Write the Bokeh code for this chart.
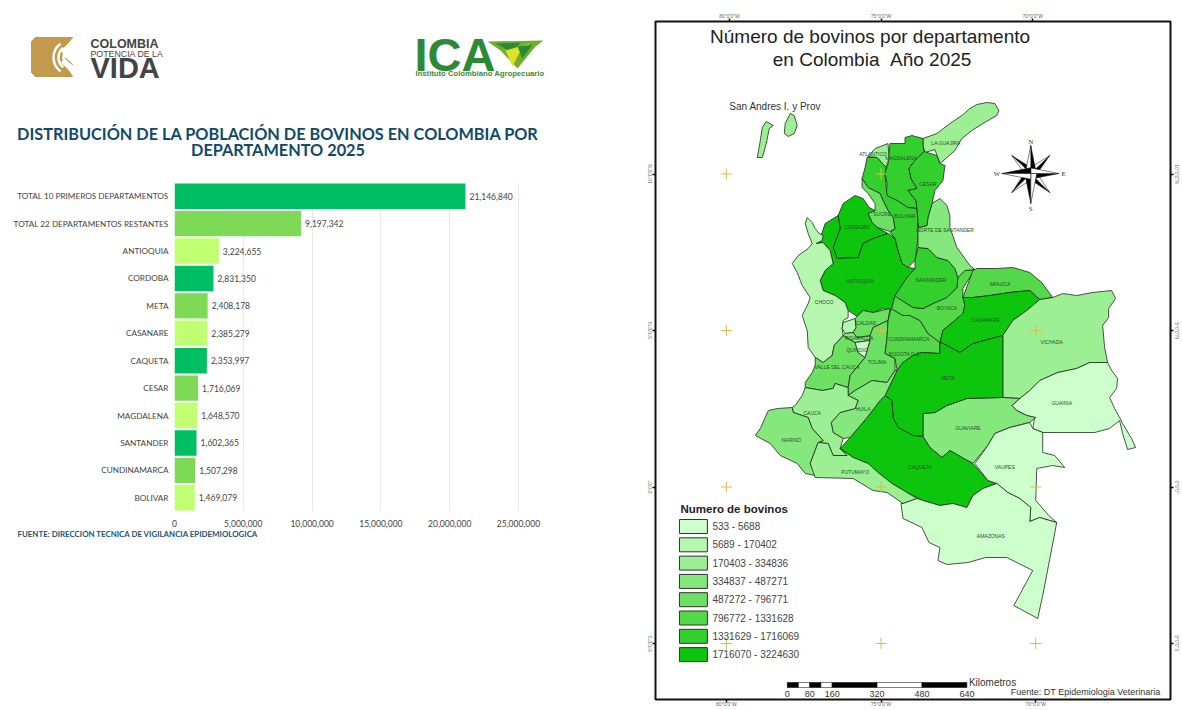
from bokeh.plotting import figure
from bokeh.layouts import row, column
from bokeh.models import (ColumnDataSource, FactorRange, Range1d, FixedTicker, NumeralTickFormatter,
                          LinearAxis)
from bokeh.core.properties import value
from bokeh.embed import file_html
from bokeh.resources import INLINE

# ------------------------------------------------------------------ bar chart data
categories = ["TOTAL 10 PRIMEROS DEPARTAMENTOS", "TOTAL 22 DEPARTAMENTOS RESTANTES", "ANTIOQUIA", "CORDOBA",
              "META", "CASANARE", "CAQUETA", "CESAR", "MAGDALENA", "SANTANDER", "CUNDINAMARCA", "BOLIVAR"]
bovinos = [21146840, 9197342, 3224655, 2831350, 2408178, 2385279, 2353997, 1716069, 1648570, 1602365, 1507298, 1469079]
bar_palette = ["#00bf63", "#7ed957", "#c1ff72"]
x_ticks = [0, 5000000, 10000000, 15000000, 20000000, 25000000]

# ------------------------------------------------------------------ map legend
legend_labels = ["533 - 5688", "5689 - 170402", "170403 - 334836", "334837 - 487271", "487272 - 796771",
                 "796772 - 1331628", "1331629 - 1716069", "1716070 - 3224630"]
C = ["#ccffcc", "#b5f7ae", "#9cf093", "#85e87c", "#6ce062", "#52d848", "#33cf2d", "#0cc50c"]

# ------------------------------------------------------------------ map: outlines
GUAJIRA = [(923,138),(937,133),(950,123),(962,115),(970,108),(977,104),(987,102),(995,103),(999,110),(997,115),(983,123),(972,130),(962,138),(955,150),(947,157),(940,163),(937,155),(935,149),(925,152),(923,145)]
MAGDALENA = [(905,137),(912,135),(923,138),(923,145),(924,151),(915,160),(909,168),(911,178),(917,188),(908,190),(916,200),(917,208),(908,207),(897,200),(886,195),(887,183),(885,172),(888,163),(890,143),(905,143)]
ATLANTICO = [(868,156),(875,148),(888,143),(889,158),(886,167),(877,157)]
BOLIVAR = [(867,157),(877,157),(886,167),(885,175),(887,195),(897,200),(908,207),(917,208),(918,222),(918,233),(917,247),(915,260),(908,267),(902,263),(897,247),(895,238),(890,232),(895,228),(893,217),(888,210),(883,200),(880,193),(868,187),(862,178),(865,167)]
SUCRE = [(862,178),(868,187),(880,193),(883,200),(888,210),(893,217),(895,228),(890,231),(877,227),(872,222),(868,213),(875,210),(875,203),(868,193),(862,187)]
CORDOBA = [(855,195),(863,198),(869,207),(875,210),(868,213),(872,222),(877,227),(888,233),(873,238),(863,243),(858,257),(837,258),(833,247),(840,228),(838,215),(843,203)]
ANTIOQUIA = [(838,215),(825,223),(822,232),(816,243),(823,242),(830,250),(833,263),(825,270),(820,280),(823,290),(835,295),(845,302),(848,310),(857,316),(863,310),(873,312),(883,308),(891,310),(892,307),(895,295),(907,277),(915,268),(908,267),(902,263),(897,247),(895,238),(888,233),(873,238),(863,243),(858,257),(837,258),(833,247),(840,228)]
CHOCO = [(807,217),(812,222),(815,228),(819,233),(823,235),(822,240),(816,243),(823,242),(830,250),(833,263),(825,270),(820,280),(823,290),(835,295),(845,302),(848,310),(848,317),(843,320),(842,328),(843,335),(834,345),(832,355),(823,362),(815,357),(808,347),(807,330),(802,315),(808,303),(810,297),(802,285),(797,272),(792,263),(798,255),(808,248),(812,243),(808,233),(805,223)]
VALLE = [(815,357),(823,362),(832,355),(834,345),(843,335),(855,342),(858,352),(865,357),(850,375),(848,387),(835,383),(833,388),(822,390),(805,387),(805,382),(812,372),(815,365)]
RISARALDA_W = [(843,322),(855,318),(856,327),(853,332),(845,333),(842,328)]
RISARALDA_E = [(845,333),(853,332),(857,337),(870,335),(870,340),(855,342),(843,335)]
QUINDIO = [(855,342),(870,340),(865,357),(858,352)]
CALDAS = [(855,318),(863,310),(873,312),(890,308),(888,320),(873,327),(870,335),(857,337),(853,332),(856,327)]
TOLIMA = [(873,327),(888,320),(887,337),(885,353),(895,358),(895,370),(887,382),(872,380),(855,390),(848,395),(848,387),(850,375),(865,357),(870,340),(870,335)]
CUNDINAMARCA = [(888,320),(891,308),(903,315),(910,315),(920,320),(928,333),(940,342),(940,353),(922,352),(913,355),(903,362),(897,370),(895,358),(885,353),(887,337)]
BOYACA = [(892,307),(895,295),(905,302),(913,307),(923,308),(933,303),(947,297),(957,287),(958,277),(965,270),(975,269),(963,288),(963,297),(965,305),(963,313),(943,330),(940,342),(928,333),(920,320),(910,315),(903,315),(891,308)]
SANTANDER = [(918,247),(928,248),(937,257),(948,260),(955,268),(958,277),(957,287),(947,297),(933,303),(923,308),(913,307),(905,302),(897,297),(895,295),(907,277),(915,268),(915,260)]
NORTE = [(932,203),(940,198),(947,205),(950,215),(950,227),(957,247),(970,265),(975,269),(965,270),(958,277),(955,268),(948,260),(937,257),(928,248),(918,247),(918,233),(918,222),(919,227),(927,225),(928,217)]
CESAR = [(924,151),(937,155),(940,163),(945,165),(943,180),(935,190),(932,203),(928,217),(927,225),(919,227),(918,222),(917,208),(916,200),(908,190),(917,188),(911,178),(909,168),(915,160)]
ARAUCA = [(963,297),(973,270),(977,268),(997,268),(1013,267),(1030,272),(1042,282),(1053,297),(1040,299),(1030,290),(1010,292),(990,295),(973,297)]
CASANARE = [(963,297),(973,297),(990,295),(1010,292),(1030,290),(1040,299),(1027,310),(1013,320),(1003,335),(973,343),(960,352),(943,343),(940,342),(943,330),(963,313),(965,305)]
VICHADA = [(1003,335),(1013,320),(1027,310),(1040,299),(1053,297),(1063,293),(1077,295),(1093,292),(1112,290),(1116,298),(1109,308),(1109,317),(1103,325),(1105,347),(1108,362),(1090,362),(1077,368),(1058,372),(1040,380),(1030,390),(1020,398),(1003,397)]
GUAINIA = [(1012,405),(1020,398),(1030,390),(1040,380),(1058,372),(1077,368),(1090,362),(1108,362),(1112,370),(1118,378),(1117,388),(1110,397),(1115,408),(1120,417),(1123,423),(1132,438),(1136,447),(1128,449),(1123,433),(1120,420),(1110,428),(1095,432),(1043,432),(1033,428),(1035,417),(1027,415),(1017,410)]
GUAVIARE = [(923,413),(935,412),(947,405),(967,398),(1003,397),(1020,398),(1012,405),(1017,410),(1027,415),(1036,417),(1030,422),(1010,427),(995,433),(988,445),(973,463),(962,457),(950,450),(942,457),(930,447),(923,436)]
META = [(940,353),(940,342),(943,343),(960,352),(973,343),(1003,335),(1003,397),(967,398),(947,405),(935,412),(923,413),(923,436),(913,435),(898,427),(893,417),(892,400),(885,395),(897,370),(903,362),(913,355),(922,352)]
CAQUETA = [(885,395),(892,400),(893,417),(898,427),(913,435),(923,436),(930,447),(942,457),(950,450),(962,457),(973,463),(988,480),(997,483),(983,488),(973,495),(967,507),(953,503),(940,505),(923,500),(907,492),(892,483),(878,472),(868,463),(853,457),(840,448),(850,437),(867,417),(880,400)]
HUILA = [(848,395),(855,390),(872,380),(887,382),(895,370),(897,370),(885,395),(880,400),(867,417),(850,437),(843,438),(833,432),(831,422),(840,412),(855,408),(858,400)]
CAUCA = [(805,387),(822,390),(833,388),(835,383),(848,387),(848,395),(858,400),(855,408),(840,412),(831,422),(833,432),(843,438),(840,448),(847,455),(833,455),(828,443),(818,442),(823,440),(812,428),(808,417),(793,412),(792,407),(795,405),(802,395)]
NARINO = [(755,435),(760,428),(768,410),(777,408),(792,407),(793,412),(808,417),(812,428),(823,440),(818,442),(810,463),(815,475),(805,473),(797,463),(780,455),(770,443)]
PUTUMAYO = [(818,442),(828,443),(833,455),(847,455),(840,448),(853,457),(868,463),(878,472),(892,483),(907,492),(917,498),(903,503),(887,492),(873,490),(853,478),(815,477),(810,463)]
VAUPES = [(975,463),(988,445),(995,433),(1010,427),(1030,422),(1033,428),(1043,432),(1043,452),(1055,455),(1065,467),(1053,465),(1037,468),(1036,500),(1049,515),(1057,522),(1050,520),(1040,517),(1030,521),(1031,507),(1020,498),(1008,492),(997,483),(988,480)]
AMAZONAS = [(901,503),(903,518),(922,527),(929,542),(940,547),(938,560),(947,564),(968,562),(986,557),(1007,557),(1033,570),(1014,605),(1038,618),(1044,590),(1057,522),(1050,520),(1040,517),(1030,521),(1031,507),(1020,498),(1008,492),(997,483),(983,488),(973,495),(967,507),(953,503),(940,505),(923,500),(917,498),(903,503)]
SAN_ANDRES = [(757,157),(760,140),(762,127),(766,121),(773,125),(769,128),(766,143),(762,157)]
PROVIDENCIA = [(784,133),(785,123),(790,113),(794,115),(797,125),(794,133),(788,136)]

regions = [(SAN_ANDRES,C[2]),(PROVIDENCIA,C[2]),(GUAJIRA,C[2]),(MAGDALENA,C[6]),(ATLANTICO,C[2]),(BOLIVAR,C[6]),(SUCRE,C[4]),
           (CORDOBA,C[7]),(ANTIOQUIA,C[7]),(CHOCO,C[1]),(VALLE,C[4]),(RISARALDA_W,C[1]),(RISARALDA_E,C[3]),(QUINDIO,C[0]),
           (CALDAS,C[4]),(TOLIMA,C[4]),(CUNDINAMARCA,C[5]),(BOYACA,C[5]),(SANTANDER,C[6]),(NORTE,C[3]),(CESAR,C[6]),
           (ARAUCA,C[5]),(CASANARE,C[7]),(VICHADA,C[2]),(GUAINIA,C[0]),(GUAVIARE,C[3]),(META,C[7]),(CAQUETA,C[7]),
           (HUILA,C[3]),(CAUCA,C[2]),(NARINO,C[3]),(PUTUMAYO,C[2]),(VAUPES,C[0]),(AMAZONAS,C[0])]

dept_names = ["LA GUAJIRA","ATLANTICO","MAGDALENA","CESAR","SUCRE","BOLIVAR","CORDOBA","NORTE DE SANTANDER","ANTIOQUIA","SANTANDER","ARAUCA","CHOCO","BOYACA","CASANARE","VICHADA","CALDAS","RISARALDA","QUINDIO","CUNDINAMARCA","BOGOTA D.C.","VALLE DEL CAUCA","TOLIMA","META","GUAINIA","CAUCA","HUILA","GUAVIARE","NARINO","CAQUETA","VAUPES","PUTUMAYO","AMAZONAS"]
dept_u = [946,873,901,928,882,905,857,945,860,931,1000,824,947,986,1052,866,859,857,909,905,837,877,948,1062,812,863,968,791,920,1005,855,991]
dept_v = [142,153,157,183,213,215,226,229,280,279,283,301,307,319,341,322,337,349,338,353,366,361,377,402,412,408,427,439,466,466,471,535]

cross_lon = [-80,-75,-75,-80,-75,-70,-80,-75,-70,-80,-75,-70]
cross_lat = [10,15,10,5,5,5,0,0,0,-5,-5,-5]

# digitising grid: 31 units per degree of longitude, 31.3 per degree of latitude
def lon(u): return -80 + (u - 726) / 31
def lat(v): return 10 - (v - 173.5) / 31.3

FONT = "Lato"
ARIAL = "Liberation Sans"

# ------------------------------------------------------------------ header (logos and title)
h = figure(width=630, height=181, x_range=Range1d(0, 630), y_range=Range1d(181, 0), output_backend="svg",
           toolbar_location=None, x_axis_location=None, y_axis_location=None, min_border=0, outline_line_color=None)
h.grid.visible = False
h.frame_align = False
gold = "#c39a4b"
h.patch([35,72,68,60,64,72,64,60,68,72,35,31,31], [37,37,42,50,57,64,57,62,70,76,76,72,41], color=gold, line_color=gold)
for r_, w_ in [(7, 2.5), (12, 2.5), (17, 2.5)]:
    h.arc(x=[70], y=[57], radius=r_, start_angle=2.2, end_angle=4.08, line_color="white", line_width=w_)
h.scatter([70], [57], size=4, color="white")
for t, x_, y_, s_, st in [("COLOMBIA", 90, 43, "12.5px", "bold"), ("POTENCIA DE LA", 90, 53, "8.8px", "normal"), ("VIDA", 90, 67, "29px", "bold")]:
    h.text([x_], [y_], text=[t], text_font=value("Liberation Sans"), text_font_size=s_, text_font_style=st,
           text_color="#444444", text_baseline="middle")
h.text([414], [54], text=["ICA"], text_font=value("Liberation Sans"), text_font_size="47px", text_font_style="bold",
       text_color="#2c8a36", text_baseline="middle")
h.text([415], [73], text=["Instituto Colombiano Agropecuario"], text_font=value("Liberation Sans"), text_font_size="7.7px",
       text_font_style="bold", text_color="#3a8a3a", text_baseline="middle")
h.patch([487,543,535,517,500], [41,40,46,68,50], color="#6fae2e", line_color=None)
h.patch([495,520,512], [43,42,52], color="#2c8a36", line_color=None)
h.patch([505,530,520,512], [50,43,50,66], color="#e3e02b", line_color=None)
h.patch([517,532,522], [46,44,58], color="#2c8a36", line_color=None)
for t, y_ in [("DISTRIBUCIÓN DE LA POBLACIÓN DE BOVINOS EN COLOMBIA POR", 133), ("DEPARTAMENTO 2025", 149)]:
    h.text([277.5], [y_], text=[t], text_font=value(FONT), text_font_size="16.3px", text_font_style="bold",
           text_color="#0f4a6b", text_align="center", text_baseline="middle")

# ------------------------------------------------------------------ bars
src = ColumnDataSource(dict(cat=categories, val=bovinos,
                            col=[bar_palette[i % 3] for i in range(len(categories))],
                            lab=[f"{v:,}" for v in bovinos]))
b = figure(width=630, height=349, y_range=FactorRange(*categories[::-1]), x_range=Range1d(0, 30960000),
           output_backend="svg", toolbar_location=None, min_border_left=174, min_border_right=30,
           min_border_top=1, min_border_bottom=19, outline_line_color=None)
b.frame_align = False
b.hbar(y="cat", right="val", height=0.93, fill_color="col", line_color=None, source=src)
b.text(x="val", y="cat", text="lab", source=src, x_offset=4, text_baseline="middle", text_color="#444444",
       text_font=value(FONT), text_font_size="8.5px")
b.y_range.range_padding = 0
b.ygrid.visible = False
b.xgrid.ticker = FixedTicker(ticks=x_ticks)
b.xgrid.grid_line_color = "#e8e8e8"
b.xaxis.ticker = FixedTicker(ticks=x_ticks)
b.xaxis.formatter = NumeralTickFormatter(format="0,0")
for ax in (b.xaxis[0], b.yaxis[0]):
    ax.axis_line_color = None
    ax.major_tick_line_color = None
    ax.minor_tick_line_color = None
    ax.major_label_text_font = FONT
    ax.major_label_text_color = "#444444"
b.xaxis.major_label_text_font_size = "8.5px"
b.xaxis.major_label_standoff = 2
b.yaxis.major_label_text_font_size = "8.2px"
b.yaxis.major_label_standoff = 0

# footer
f = figure(width=630, height=20, x_range=Range1d(0, 630), y_range=Range1d(551, 531), output_backend="svg",
           toolbar_location=None, x_axis_location=None, y_axis_location=None, min_border=0, outline_line_color=None)
f.grid.visible = False
f.frame_align = False
f.text([17], [534.5], text=["FUENTE: DIRECCIÓN TECNICA DE VIGILANCIA EPIDEMIOLOGICA"], text_font=value(FONT), text_font_size="7.9px",
       text_font_style="bold", text_color="#1a5276", text_baseline="middle")

# ------------------------------------------------------------------ map
m = figure(width=552, height=710, x_range=Range1d(lon(655), lon(1171)), y_range=Range1d(lat(699), lat(21)),
           output_backend="svg", toolbar_location=None, x_axis_location=None, y_axis_location=None,
           min_border_left=25, min_border_right=11, min_border_top=21, min_border_bottom=11,
           outline_line_color="#111111", outline_line_width=2)
m.frame_align = False
m.grid.visible = False
m.patches(xs=[[lon(p[0]) for p in r[0]] for r in regions], ys=[[lat(p[1]) for p in r[0]] for r in regions],
          fill_color=[r[1] for r in regions], line_color="#1c2b1c", line_width=0.8)
m.scatter(cross_lon, cross_lat, marker="cross", size=11, line_color="#d9bb4a", fill_color=None, line_width=1)
m.text([lon(u) for u in dept_u], [lat(v) for v in dept_v], text=dept_names, text_font=value(ARIAL), text_font_size="5px",
       text_color="#245224", text_align="center", text_baseline="middle")

def add_axis(side, ticks, labels, vertical, standoff=0):
    ax = LinearAxis(ticker=FixedTicker(ticks=ticks), major_label_overrides=dict(zip(ticks, labels)),
                    major_label_text_font=ARIAL, major_label_text_font_size="5px", major_label_text_color="#666666",
                    major_tick_in=0, major_tick_out=3, minor_tick_line_color=None, axis_line_color=None,
                    major_tick_line_color="#111111", major_tick_line_width=1.5, major_label_standoff=standoff)
    if vertical:
        ax.major_label_orientation = "vertical"
    m.add_layout(ax, side)

lat_labels = ['10°0\'0"N', '5°0\'0"N', '0°0\'0"', '5°0\'0"S']
lon_labels = ['80°0\'0"W', '75°0\'0"W', '70°0\'0"W']
add_axis("left", [10, 5, 0, -5], lat_labels, True)
add_axis("right", [10, 5, 0, -5], lat_labels, True)
add_axis("above", [-79.9, -75, -70.1], lon_labels, False)
add_axis("below", [-80, -75, -70], lon_labels, False, standoff=-2)

for t, u, v, s_ in [("Número de bovinos por departamento", 870, 36, "19px"), ("en Colombia\u00a0\u00a0Año 2025", 872, 59, "19px")]:
    m.text([lon(u)], [lat(v)], text=[t], text_font=value(ARIAL), text_font_size=s_, text_color="#222222",
           text_align="center", text_baseline="middle")
m.text([lon(729)], [lat(106)], text=["San Andres I. y Prov"], text_font=value(ARIAL), text_font_size="10px",
       text_color="#333333", text_baseline="middle")

# legend
m.text([lon(680)], [lat(508)], text=["Numero de bovinos"], text_font=value(ARIAL), text_font_size="11.5px",
       text_font_style="bold", text_color="#222222", text_baseline="middle")
leg_v = [519 + 18.3 * i for i in range(len(legend_labels))]
m.quad(left=[lon(679)] * 8, right=[lon(707)] * 8, top=[lat(v) for v in leg_v], bottom=[lat(v + 14) for v in leg_v],
       fill_color=C, line_color="#333333", line_width=1)
m.text([lon(712)] * 8, [lat(v + 7) for v in leg_v], text=legend_labels, text_font=value(ARIAL), text_font_size="10px",
       text_color="#444444", text_baseline="middle")

# compass
cu, cv = 1031, 173
points = [(0,-28),(28,0),(0,30),(-29,0)]
diag = [(-19,-18),(19,-18),(19,19),(-19,19)]
for (dx, dy) in diag + points:
    k = 0.2
    w1 = (cu - dy * k, cv + dx * k)
    w2 = (cu + dy * k, cv - dx * k)
    m.patch([lon(cu), lon(cu + dx), lon(w1[0])], [lat(cv), lat(cv + dy), lat(w1[1])], fill_color="#000000", line_color="#000000", line_width=0.5)
    m.patch([lon(cu), lon(cu + dx), lon(w2[0])], [lat(cv), lat(cv + dy), lat(w2[1])], fill_color="#ffffff", line_color="#000000", line_width=0.5)
for t, u, v in [("N", 1031, 141), ("S", 1031, 208), ("W", 997, 173), ("E", 1064, 173)]:
    m.text([lon(u)], [lat(v)], text=[t], text_font=value("Liberation Serif"), text_font_size="7px", text_color="#333333",
           text_align="center", text_baseline="middle")

# scale bar
km = [0, 40, 80, 120, 160, 320, 480, 640]
km_to_u = 180 / 640
for i in range(len(km) - 1):
    m.quad(left=[lon(787 + km[i] * km_to_u)], right=[lon(787 + km[i + 1] * km_to_u)], top=[lat(682)], bottom=[lat(687)],
           fill_color="#000000" if i % 2 == 0 else "#ffffff", line_color="#000000", line_width=0.5)
for k_ in [0, 80, 160, 320, 480, 640]:
    m.text([lon(787 + k_ * km_to_u)], [lat(693)], text=[str(k_)], text_font=value(ARIAL), text_font_size="9px",
           text_color="#333333", text_align="center", text_baseline="middle")
m.text([lon(969)], [lat(682)], text=["Kilometros"], text_font=value(ARIAL), text_font_size="10px", text_color="#333333", text_baseline="middle")
m.text([lon(1011)], [lat(691)], text=["Fuente: DT Epidemiologia Veterinaria"], text_font=value(ARIAL), text_font_size="9px",
       text_color="#333333", text_baseline="middle")

page = row(column(h, b, f), m)
open("out.html", "w").write(file_html(page, INLINE))
